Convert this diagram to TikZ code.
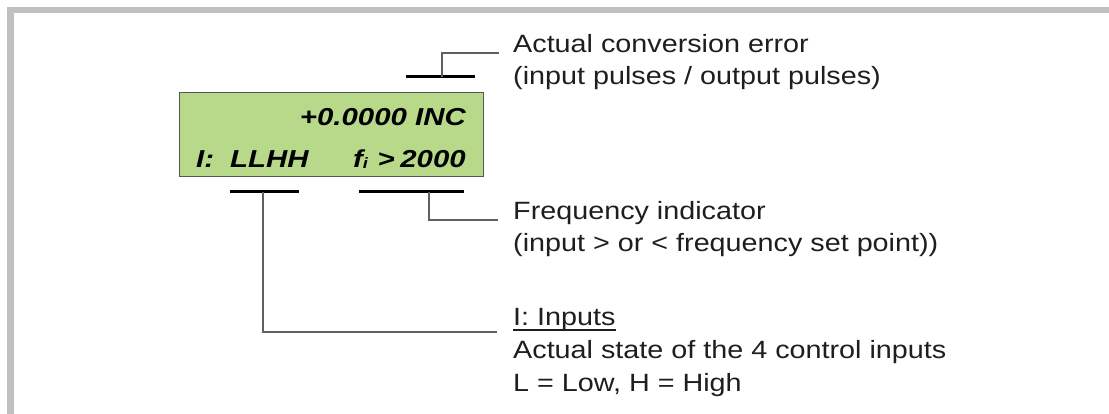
\documentclass[tikz,border=0pt]{standalone}
\usepackage{fontspec}
\newfontfamily\bodyfont[FakeStretch=1.15]{Liberation Sans}
\newfontfamily\lcdfont[FakeStretch=1.2]{Liberation Sans}
\definecolor{framegray}{HTML}{C0C0C0}
\definecolor{lcdgreen}{HTML}{B9D98A}
\definecolor{lcdedge}{HTML}{555555}
\definecolor{conngray}{HTML}{606060}
\definecolor{txt}{HTML}{1E1E1E}
\begin{document}
\begin{tikzpicture}[x=1pt,y=-1pt,
  lbl/.style={inner sep=0pt, anchor=base west, text=txt, font={\bodyfont\fontsize{25}{30}\selectfont}},
  lcdtext/.style={inner sep=0pt, text=black, font={\lcdfont\bfseries\itshape\fontsize{24.5}{28}\selectfont}},
  bar/.style={line width=3pt, black},
  conn/.style={line width=1.1pt, conngray},
  ]
\useasboundingbox (0,0) rectangle (1109,414);
% frame
\fill[framegray] (7,7) rectangle (1109,13);
\fill[framegray] (7,7) rectangle (14,414);
% LCD
\node[draw=lcdedge, fill=lcdgreen, line width=1pt, minimum width=304pt, minimum height=84pt, inner sep=0pt] (lcd) at (331,135) {};
\node[lcdtext, anchor=base east] (val) at (466,126) {+0.0000 INC};
\node[lcdtext, anchor=base west] (ilab) at (196,168) {I:};
\node[lcdtext, anchor=base west] (istate) at (230,168) {LLHH};
\node[lcdtext, anchor=base west] (fsym) at (353,168) {f\raisebox{-1pt}{\fontsize{15}{15}\selectfont i}};
\node[lcdtext, anchor=base east] (gt) at (395,168) {>};
\node[lcdtext, anchor=base east] (fval) at (466,168) {2000};
% labels
\node[lbl] (act1) at (513,53) {Actual conversion error};
\node[lbl] (act2) at (513,85) {(input pulses / output pulses)};
\node[lbl] (freq1) at (513,220) {Frequency indicator};
\node[lbl] (freq2) at (513,252) {(input > or < frequency set point))};
\node[lbl] (in1) at (513,326) {I: Inputs};
\node[lbl] (in2) at (513,358) {Actual state of the 4 control inputs};
\node[lbl] (in3) at (513,391) {L = Low, H = High};
\draw[line width=1.2pt, txt] ([yshift=-4pt]in1.base west) -- ([yshift=-4pt]in1.base east);
% bars
\coordinate (tbL) at (406,77); \coordinate (tbR) at (475,77); \coordinate (tbM) at (442,77);
\coordinate (lbL) at (230,192); \coordinate (lbR) at (299,192); \coordinate (lbM) at (263,192);
\coordinate (rbL) at (359,192); \coordinate (rbR) at (464,192); \coordinate (rbM) at (429,192);
\draw[bar] (tbL) -- (tbR);
\draw[bar] (lbL) -- (lbR);
\draw[bar] (rbL) -- (rbR);
% connectors
\draw[conn] (tbM) |- ([xshift=-14pt]act1.base west);
\draw[conn] (rbM) |- ([xshift=-15pt]freq1.base west);
\draw[conn] (lbM) |- ([xshift=-16pt,yshift=-6pt]in1.base west);
\end{tikzpicture}
\end{document}
